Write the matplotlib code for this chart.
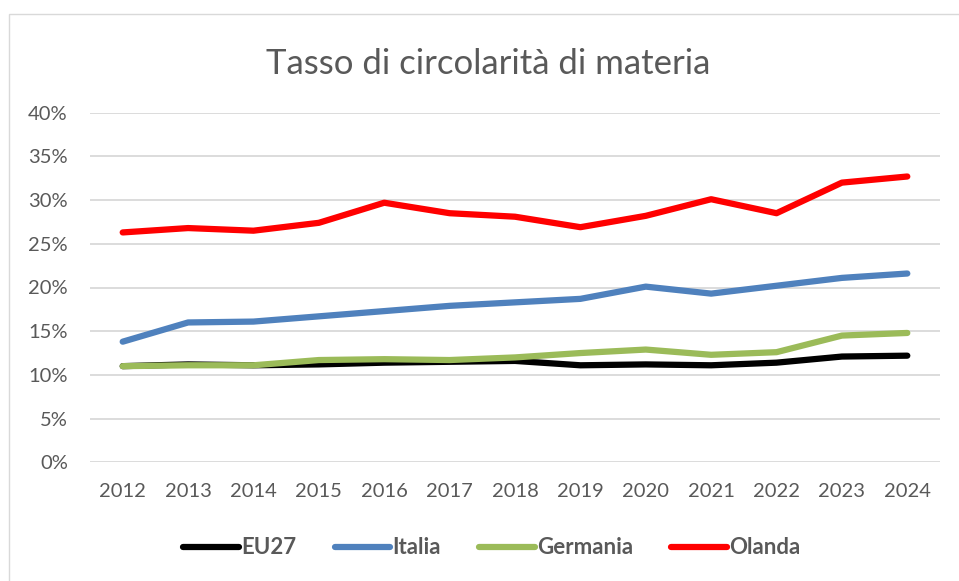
import matplotlib
matplotlib.use("Agg")
import matplotlib.pyplot as plt
from matplotlib.patches import Rectangle
from matplotlib.ticker import FuncFormatter

years = ["2012", "2013", "2014", "2015", "2016", "2017", "2018",
         "2019", "2020", "2021", "2022", "2023", "2024"]
eu27 = [11.0, 11.2, 11.1, 11.2, 11.4, 11.5, 11.6, 11.1, 11.2, 11.1, 11.4, 12.1, 12.2]
italia = [13.8, 16.0, 16.1, 16.7, 17.3, 17.9, 18.3, 18.7, 20.1, 19.3, 20.2, 21.1, 21.6]
germania = [11.0, 11.1, 11.1, 11.7, 11.8, 11.7, 12.0, 12.5, 12.9, 12.3, 12.6, 14.5, 14.8]
olanda = [26.3, 26.8, 26.5, 27.4, 29.7, 28.5, 28.1, 26.9, 28.2, 30.1, 28.5, 32.0, 32.7]

series_names = ["EU27", "Italia", "Germania", "Olanda"]
series_values = [eu27, italia, germania, olanda]
series_colors = ["#000000", "#4F81BD", "#9BBB59", "#FF0000"]

title = "Tasso di circolarità di materia"
yticks = [0, 5, 10, 15, 20, 25, 30, 35, 40]

plt.rcParams['font.family'] = ['Lato', 'DejaVu Sans']
TXT = "#595959"

fig = plt.figure(figsize=(9.59, 5.81), dpi=100)
fig.patch.set_facecolor("white")
fig.patches.append(Rectangle((9 / 959, -0.05), 1.0, 1 - 14 / 581 + 0.05,
                             transform=fig.transFigure, fill=False,
                             edgecolor="#D9D9D9", linewidth=1.0))

ax = fig.add_axes([90 / 959, 1 - 462.3 / 581, 850 / 959, (462.3 - 112.7) / 581])
x = list(range(len(years)))
for name, vals, col in zip(series_names, series_values, series_colors):
    ax.plot(x, vals, color=col, linewidth=4.5, label=name,
            solid_capstyle="round", solid_joinstyle="round", zorder=3)

ax.set_xlim(-0.5, len(years) - 0.5)
ax.set_ylim(0, 40)
ax.set_yticks(yticks)
ax.yaxis.set_major_formatter(FuncFormatter(lambda v, p: f"{int(v)}%"))
ax.set_xticks(x)
ax.set_xticklabels(years)
ax.grid(axis="y", color="#D9D9D9", linewidth=1.3, zorder=0)
ax.set_axisbelow(True)
for s in ax.spines.values():
    s.set_visible(False)
ax.tick_params(axis="both", length=0, labelsize=14.5, labelcolor=TXT)
ax.tick_params(axis="y", pad=16)
ax.tick_params(axis="x", pad=15)

fig.text(488 / 959, 1 - 74 / 581, title, ha="center", va="baseline",
         fontsize=25, color=TXT)

leg = fig.legend(loc="center", bbox_to_anchor=(492 / 959, 1 - 548 / 581),
                 ncol=4, frameon=False, handlelength=2.5,
                 handletextpad=0.12, columnspacing=1.7,
                 prop={'weight': 'bold', 'size': 16})
for t in leg.get_texts():
    t.set_color(TXT)

fig.savefig("out.png", dpi=100, facecolor="white")
